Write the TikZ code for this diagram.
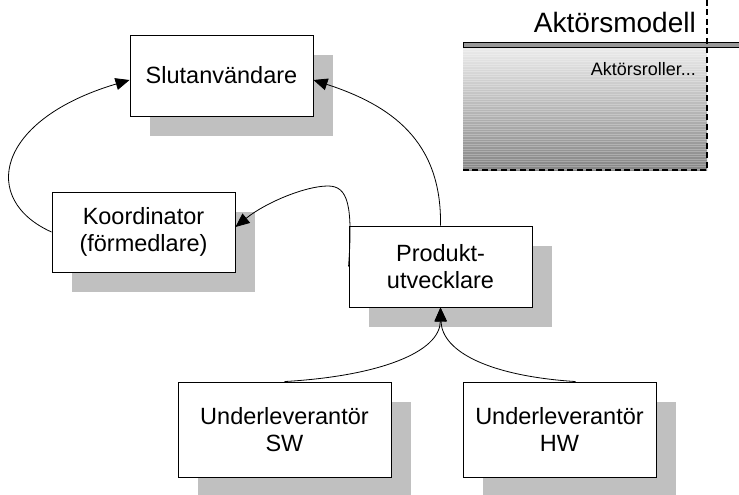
\documentclass[tikz,border=0pt]{standalone}
\usepackage{fontspec}
\setmainfont{Liberation Sans}
\usetikzlibrary{arrows.meta,shadows,calc}
\definecolor{shadowgray}{HTML}{C0C0C0}
\definecolor{bargray}{HTML}{989898}
\tikzset{
  actor/.style={draw=black, line width=0.9pt, fill=white, align=center,
    inner sep=0pt, font=\fontsize{23.5}{27.6}\selectfont,
    drop shadow={shadow xshift=20pt, shadow yshift=-20pt, fill=shadowgray, opacity=1, draw=none}},
  flow/.style={draw=black, line width=0.8pt, -{Triangle[length=14pt,width=12pt]}},
  frameline/.style={draw=black, line width=1.5pt, dash pattern=on 6pt off 3.5pt}
}
\begin{document}
\begin{tikzpicture}[x=1pt, y=-1pt]
\useasboundingbox (0,0) rectangle (739,495);

% actor model panel
\shade[top color=black!8, bottom color=black!48] (463,48) rectangle (707,170);
\foreach \yy in {49,51.5,...,169}
  \draw[white, opacity=0.25, line width=0.6pt] (463,\yy) -- (707,\yy);
\filldraw[fill=bargray, draw=black, line width=1pt] (739,43) -- (463,43) -- (463,48) -- (739,48);
\draw[frameline] (707,0) -- (707,170) -- (463,170);
\node[anchor=base east, inner sep=0pt, font=\fontsize{28}{32}\selectfont] (title) at (696,33) {Aktörsmodell};
\node[anchor=base east, inner sep=0pt, font=\fontsize{18}{20}\selectfont] (roles) at (696,76) {Aktörsroller...};

% actors
\node[actor, minimum width=183pt, minimum height=81pt] (slut) at (221.5,75.5) {Slutanvändare};
\node[actor, minimum width=183pt, minimum height=80pt] (koord) at (143.5,232) {Koordinator\\(förmedlare)};
\node[actor, minimum width=183pt, minimum height=81pt] (prod) at (440.5,266.5) {Produkt-\\utvecklare};
\node[actor, minimum width=213pt, minimum height=95pt] (sw) at (284.5,429.5) {Underleverantör\\SW};
\node[actor, minimum width=193pt, minimum height=95pt] (hw) at (559.5,429.5) {Underleverantör\\HW};

% flows
\draw[flow] (koord.west) .. controls (-20,200) and (-5,120) .. ([yshift=-4.5pt]slut.west);
\draw[flow] (prod.north) .. controls (442,140) and (390,105) .. ([yshift=-4.5pt]slut.east);
\draw[flow] (prod.west) .. controls (353,205) and (348,186) .. (328,186)
  .. controls (305,186) and (265,203) .. ([yshift=5pt]koord.east);
\draw[flow] (sw.north) .. controls (380,376) and (440,352) .. (prod.south);
\draw[flow] ([xshift=16pt]hw.north) .. controls (490,376) and (442,352) .. (prod.south);
\end{tikzpicture}
\end{document}
